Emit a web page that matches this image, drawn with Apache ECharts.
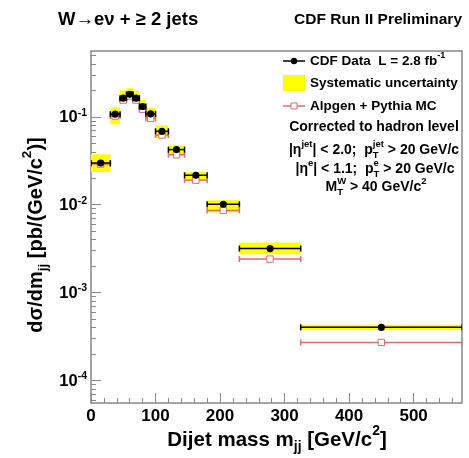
<!DOCTYPE html>
<html><head><meta charset="utf-8">
<script src="https://cdn.jsdelivr.net/npm/echarts@6/dist/echarts.min.js"></script>
<style>html,body{margin:0;padding:0;background:#fff}#c{width:469px;height:458px}</style>
</head><body><div id="c"></div><script>
// ---- data ----
const binLo = [0, 30, 45, 55, 65, 75, 85, 100, 120, 145, 180, 230, 325];
const binHi = [30, 45, 55, 65, 75, 85, 100, 120, 145, 180, 230, 325, 575];
const dataXsec = [0.0298, 0.107, 0.163, 0.180, 0.163, 0.131, 0.108, 0.0684, 0.0423, 0.0216, 0.0101, 0.00316, 0.000401];
const mcXsec   = [0.0290, 0.102, 0.155, 0.172, 0.155, 0.122, 0.096, 0.0620, 0.0370, 0.0190, 0.0086, 0.00240, 0.000270];
const sysLow   = [0.0235, 0.082, 0.143, 0.158, 0.143, 0.114, 0.094, 0.0580, 0.0365, 0.0192, 0.0082, 0.00272, 0.000374];
const sysHigh  = [0.0374, 0.128, 0.200, 0.212, 0.196, 0.155, 0.126, 0.0800, 0.0473, 0.0235, 0.0112, 0.00370, 0.000430];
const xTickValues = [0, 100, 200, 300, 400, 500];
const xMinorTickValues = [20, 40, 60, 80, 120, 140, 160, 180, 220, 240, 260, 280, 320, 340, 360, 380, 420, 440, 460, 480, 520, 540, 560];
const yTickValues = [1e-4, 1e-3, 1e-2, 1e-1];
const yTickExponents = ['-4', '-3', '-2', '-1'];
const yMinorTickValues = [6e-5, 7e-5, 8e-5, 9e-5,
  2e-4, 3e-4, 4e-4, 5e-4, 6e-4, 7e-4, 8e-4, 9e-4,
  2e-3, 3e-3, 4e-3, 5e-3, 6e-3, 7e-3, 8e-3, 9e-3,
  2e-2, 3e-2, 4e-2, 5e-2, 6e-2, 7e-2, 8e-2, 9e-2,
  2e-1, 3e-1, 4e-1, 5e-1];
const xRange = [0, 575];
const yRange = [5.52e-5, 0.561];

// ---- styling ----
const FONT = '"Liberation Sans", Arial, Helvetica, sans-serif';
const FRAME = '#888888';
const YELLOW = '#ffff00';
const RED = '#e06a6a';

const ctx = document.createElement('canvas').getContext('2d');
function tw(t, size) { ctx.font = 'bold ' + size + 'px ' + FONT; return ctx.measureText(t).width; }
function txt(t, x, y, size, align) {
  return {type: 'text', x: x, y: y, silent: true,
    style: {text: t, fontSize: size, fontWeight: 'bold', fontFamily: FONT, fill: '#000',
      align: align || 'left', verticalAlign: 'middle', textAlign: align || 'left', textVerticalAlign: 'middle'}};
}
// lay out a line of segments (strings, {sup}, {sub}, {sup,sub}) centred vertically at y
function richLine(segs, x, y, size, align) {
  const items = []; let cx = 0; const ss = size * 0.68;
  segs.forEach(function (s) {
    if (typeof s === 'string') { items.push([s, cx, 0, size]); cx += tw(s, size); }
    else {
      let wmax = 0;
      if (s.sup !== undefined) { items.push([s.sup, cx, -size * 0.42, ss]); wmax = Math.max(wmax, tw(s.sup, ss)); }
      if (s.sub !== undefined) { items.push([s.sub, cx, size * 0.36, ss]); wmax = Math.max(wmax, tw(s.sub, ss)); }
      cx += wmax;
    }
  });
  const x0 = align === 'center' ? x - cx / 2 : (align === 'right' ? x - cx : x);
  return items.map(function (it) { return txt(it[0], x0 + it[1], y + it[2], it[3], 'left'); });
}

const chart = echarts.init(document.getElementById('c'), null, {renderer: 'canvas'});

function barRenderer(color, kind) {
  return function (params, api) {
    const lo = api.value(0), hi = api.value(1), v = api.value(2);
    const a = api.coord([lo, v]), b = api.coord([hi, v]), c = api.coord([(lo + hi) / 2, v]);
    const st = {stroke: color, lineWidth: 1.5};
    const ch = [
      {type: 'line', shape: {x1: a[0], y1: a[1], x2: b[0], y2: b[1]}, style: st},
      {type: 'line', shape: {x1: a[0], y1: a[1] - 3, x2: a[0], y2: a[1] + 3}, style: st},
      {type: 'line', shape: {x1: b[0], y1: b[1] - 3, x2: b[0], y2: b[1] + 3}, style: st}
    ];
    if (kind === 'dot') ch.push({type: 'circle', shape: {cx: c[0], cy: c[1], r: 3.6}, style: {fill: '#000'}});
    else ch.push({type: 'rect', shape: {x: c[0] - 3.2, y: c[1] - 3.2, width: 6.4, height: 6.4}, style: {fill: '#fff', stroke: color, lineWidth: 1}});
    return {type: 'group', children: ch};
  };
}

const graphics = [];
// titles
graphics.push.apply(graphics, richLine(['W\u2192e\u03BD + \u2265 2 jets'], 58, 20, 18.5, 'left'));
graphics.push(txt('CDF Run II Preliminary', 462, 20, 15.5, 'right'));
// axis titles
graphics.push.apply(graphics, richLine(['Dijet mass m', {sub: 'jj'}, ' [GeV/c', {sup: '2'}, ']'], 277, 440, 20.5, 'center'));
graphics.push({type: 'group', x: 36, y: 235, rotation: Math.PI / 2,
  children: richLine(['d\u03C3/dm', {sub: 'jj'}, ' [pb/(GeV/c', {sup: '2'}, ')]'], 0, 0, 20, 'center')});
// legend
const L = [61, 83, 106, 127, 150, 169, 187];
graphics.push({type: 'line', shape: {x1: 283, y1: L[0], x2: 305, y2: L[0]}, style: {stroke: '#000', lineWidth: 1.5}});
graphics.push({type: 'circle', shape: {cx: 294, cy: L[0], r: 3.2}, style: {fill: '#000'}});
graphics.push.apply(graphics, richLine(['CDF Data  L = 2.8 fb', {sup: '-1'}], 310, L[0], 13.5, 'left'));
graphics.push({type: 'rect', shape: {x: 283, y: L[1] - 8, width: 22, height: 16}, style: {fill: YELLOW}});
graphics.push(txt('Systematic uncertainty', 310, L[1], 13.5, 'left'));
graphics.push({type: 'line', shape: {x1: 283, y1: L[2], x2: 305, y2: L[2]}, style: {stroke: RED, lineWidth: 1.5}});
graphics.push({type: 'rect', shape: {x: 291, y: L[2] - 3, width: 6, height: 6}, style: {fill: '#fff', stroke: RED, lineWidth: 1}});
graphics.push(txt('Alpgen + Pythia MC', 310, L[2], 13.5, 'left'));
graphics.push(txt('Corrected to hadron level', 374, L[3], 14, 'center'));
graphics.push.apply(graphics, richLine(['|\u03B7', {sup: 'jet'}, '| < 2.0;  p', {sup: 'jet', sub: 'T'}, ' > 20 GeV/c'], 374, L[4], 14, 'center'));
graphics.push.apply(graphics, richLine(['|\u03B7', {sup: 'e'}, '| < 1.1;  p', {sup: 'e', sub: 'T'}, ' > 20 GeV/c'], 375, L[5], 14, 'center'));
graphics.push.apply(graphics, richLine(['M', {sup: 'W', sub: 'T'}, ' > 40 GeV/c', {sup: '2'}], 376, L[6], 14, 'center'));

const boxData = binLo.map(function (lo, i) { return [lo, binHi[i], sysLow[i], sysHigh[i]]; });
const dataPts = binLo.map(function (lo, i) { return [lo, binHi[i], dataXsec[i]]; });
const mcPts = binLo.map(function (lo, i) { return [lo, binHi[i], mcXsec[i]]; });

const labelStyle = {fontFamily: FONT, fontWeight: 'bold', color: '#000'};

chart.setOption({
  animation: false,
  backgroundColor: '#fff',
  grid: {left: 91, right: 7, top: 51, bottom: 55, show: true, borderColor: FRAME, borderWidth: 1.5, backgroundColor: 'transparent'},
  xAxis: [
    {type: 'value', min: xRange[0], max: xRange[1], position: 'bottom',
      axisLine: {show: false}, splitLine: {show: false},
      axisTick: {show: true, inside: true, length: 10, customValues: xTickValues, lineStyle: {color: FRAME, width: 1}},
      axisLabel: Object.assign({show: true, fontSize: 17, margin: 5, customValues: xTickValues}, labelStyle)},
    {type: 'value', min: xRange[0], max: xRange[1], position: 'bottom',
      axisLine: {show: false}, splitLine: {show: false},
      axisTick: {show: true, inside: true, length: 5, customValues: xMinorTickValues, lineStyle: {color: FRAME, width: 1}},
      axisLabel: {show: false}}
  ],
  yAxis: [
    {type: 'log', logBase: 10, min: yRange[0], max: yRange[1], position: 'left',
      axisLine: {show: false}, splitLine: {show: false},
      axisTick: {show: true, inside: true, length: 10, customValues: yTickValues, lineStyle: {color: FRAME, width: 1}},
      axisLabel: {show: true, margin: 4, customValues: yTickValues,
        formatter: function (v) { const i = yTickValues.findIndex(function (t) { return Math.abs(t - v) / t < 1e-6; }); return i < 0 ? '' : '{b|10}{s|' + yTickExponents[i] + '}'; },
        rich: {b: Object.assign({fontSize: 16.5, lineHeight: 19, verticalAlign: 'bottom'}, labelStyle),
               s: Object.assign({fontSize: 10.5, lineHeight: 10, verticalAlign: 'top'}, labelStyle)}}},
    {type: 'log', logBase: 10, min: yRange[0], max: yRange[1], position: 'left',
      axisLine: {show: false}, splitLine: {show: false},
      axisTick: {show: true, inside: true, length: 5, customValues: yMinorTickValues, lineStyle: {color: FRAME, width: 1}},
      axisLabel: {show: false}}
  ],
  series: [
    {type: 'custom', name: 'Systematic uncertainty', xAxisIndex: 0, yAxisIndex: 0, clip: true,
      data: boxData, encode: {x: [0, 1], y: [2, 3]},
      renderItem: function (params, api) {
        const p1 = api.coord([api.value(0), api.value(3)]);
        const p2 = api.coord([api.value(1), api.value(2)]);
        return {type: 'rect', shape: {x: p1[0], y: p1[1], width: p2[0] - p1[0], height: p2[1] - p1[1]}, style: {fill: YELLOW}};
      }},
    {type: 'custom', name: 'Alpgen + Pythia MC', xAxisIndex: 0, yAxisIndex: 0, clip: true,
      data: mcPts, encode: {x: [0, 1], y: 2}, renderItem: barRenderer(RED, 'square')},
    {type: 'custom', name: 'CDF Data', xAxisIndex: 0, yAxisIndex: 0, clip: true,
      data: dataPts, encode: {x: [0, 1], y: 2}, renderItem: barRenderer('#000', 'dot')}
  ],
  graphic: graphics
});
</script></body></html>
